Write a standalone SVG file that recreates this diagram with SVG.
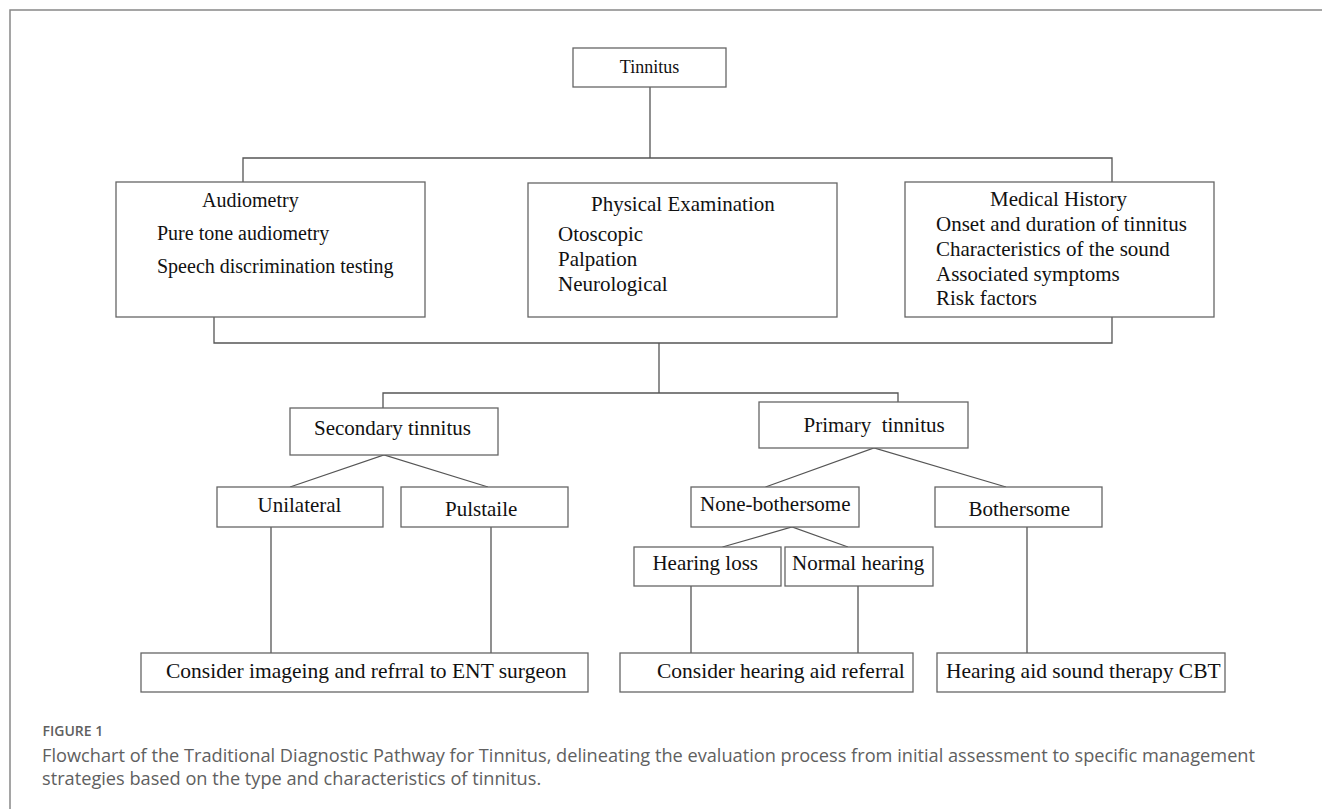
<svg xmlns="http://www.w3.org/2000/svg" width="1322" height="809" viewBox="0 0 1322 809">
<style>
.box{fill:#fff;stroke:#666;stroke-width:1.3}
.ln{fill:none;stroke:#555;stroke-width:1.3}
.t{font-family:"Liberation Serif","Times New Roman",serif;font-size:21px;fill:#111;white-space:pre}
.t20{font-size:20px}
.tb{font-size:21.5px}
.cap{font-family:"Open Sans","Liberation Sans",sans-serif;fill:#606060}
</style>
<rect width="1322" height="809" fill="#fff"/>
<path d="M10,809 V10 H1322" fill="none" stroke="#888" stroke-width="1.5"/>
<g id="connectors">
<path class="ln" d="M650,87 V158 M243,182 V158 H1112 V182"/>
<path class="ln" d="M214,317 V343 H1112 V317 M659,343 V393 M383,408 V393 H898 V402"/>
<path class="ln" d="M290,487 L384,455 L488,487"/>
<path class="ln" d="M765.5,487 L874,448 L1006,487"/>
<path class="ln" d="M722.5,547 L792,527 L848,547"/>
<path class="ln" d="M271,527 V653 M491,527 V653 M691,586 V653 M858,586 V653 M1027,527 V653"/>
</g>
<g id="tinnitus"><rect class="box" x="573" y="48" width="153" height="39"/><text class="t" x="649.5" y="73" text-anchor="middle" style="font-size:18px">Tinnitus</text></g>
<g id="audiometry"><rect class="box" x="116" y="182" width="309" height="135"/>
<text class="t t20" x="202" y="207">Audiometry</text>
<text class="t t20" x="157" y="240">Pure tone audiometry</text>
<text class="t t20" x="157" y="273">Speech discrimination testing</text></g>
<g id="physical"><rect class="box" x="528" y="183" width="309" height="134"/>
<text class="t" x="591" y="211">Physical Examination</text>
<text class="t" x="558" y="241">Otoscopic</text>
<text class="t" x="558" y="266">Palpation</text>
<text class="t" x="558" y="291">Neurological</text></g>
<g id="history"><rect class="box" x="905" y="182" width="309" height="135"/>
<text class="t" x="990" y="206">Medical History</text>
<text class="t" x="936" y="231">Onset and duration of tinnitus</text>
<text class="t" x="936" y="256">Characteristics of the sound</text>
<text class="t" x="936" y="281">Associated symptoms</text>
<text class="t" x="936" y="305">Risk factors</text></g>
<g id="secondary"><rect class="box" x="290" y="408" width="208" height="47"/><text class="t" x="314" y="435">Secondary tinnitus</text></g>
<g id="primary"><rect class="box" x="759" y="402" width="209" height="46"/><text class="t" x="803.5" y="431.5">Primary  tinnitus</text></g>
<g id="unilateral"><rect class="box" x="217" y="487" width="166" height="40"/><text class="t" x="257.5" y="511.5">Unilateral</text></g>
<g id="pulstaile"><rect class="box" x="401" y="487" width="167" height="40"/><text class="t" x="445" y="515.5">Pulstaile</text></g>
<g id="nonebothersome"><rect class="box" x="691" y="487" width="168" height="40"/><text class="t" x="700" y="511">None-bothersome</text></g>
<g id="bothersome"><rect class="box" x="935" y="487" width="167" height="40"/><text class="t" x="968.5" y="515.5">Bothersome</text></g>
<g id="hearingloss"><rect class="box" x="634" y="547" width="147" height="39"/><text class="t" x="758" y="570" text-anchor="end">Hearing loss</text></g>
<g id="normalhearing"><rect class="box" x="785" y="547" width="148" height="39"/><text class="t" x="792" y="570">Normal hearing</text></g>
<g id="imaging"><rect class="box" x="141" y="653" width="447" height="39"/><text class="t tb" x="166" y="678">Consider imageing and refrral to ENT surgeon</text></g>
<g id="hearingaid"><rect class="box" x="620" y="653" width="293" height="39"/><text class="t tb" x="657" y="678">Consider hearing aid referral</text></g>
<g id="therapy"><rect class="box" x="937" y="653" width="288" height="39"/><text class="t tb" x="946" y="678">Hearing aid sound therapy CBT</text></g>
<text class="cap" x="42.5" y="736" style="font-size:14px;font-weight:600">FIGURE 1</text>
<text class="cap" x="42" y="761.5" style="font-size:18.2px">Flowchart of the Traditional Diagnostic Pathway for Tinnitus, delineating the evaluation process from initial assessment to specific management</text>
<text class="cap" x="42" y="784.5" style="font-size:18.2px">strategies based on the type and characteristics of tinnitus.</text>
</svg>
